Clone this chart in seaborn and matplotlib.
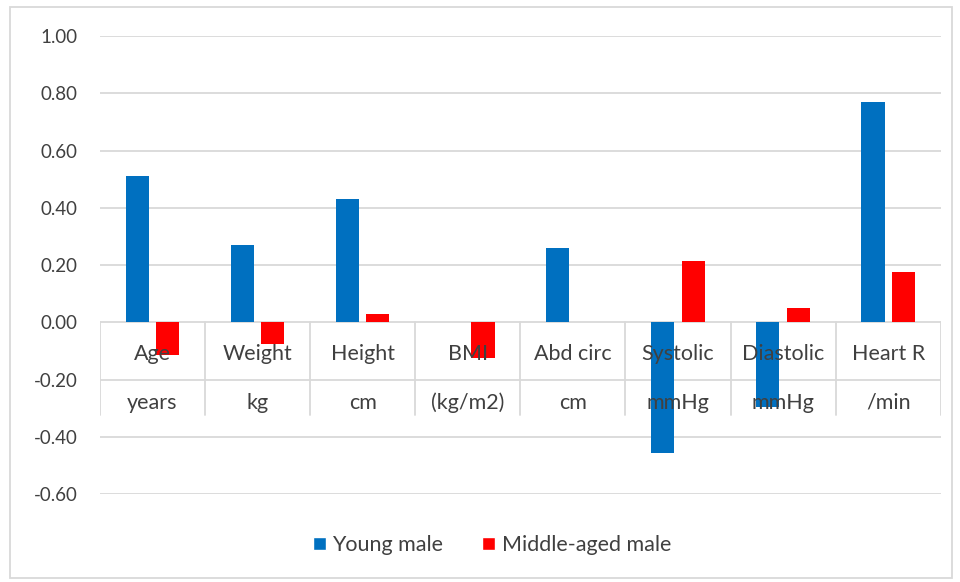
import pandas as pd
import matplotlib
matplotlib.use("Agg")
import matplotlib.pyplot as plt
from matplotlib.patches import Rectangle, Patch
import seaborn as sns

# valores
categorias = ["Age", "Weight", "Height", "BMI", "Abd circ", "Systolic", "Diastolic", "Heart R"]
unidades = ["years", "kg", "cm", "(kg/m2)", "cm", "mmHg", "mmHg", "/min"]
young = [0.51, 0.27, 0.43, 0.0, 0.26, -0.455, -0.295, 0.77]
middle = [-0.115, -0.075, 0.03, -0.125, 0.0, 0.215, 0.05, 0.175]
series = ["Young male", "Middle-aged male"]
yticks = [1.0, 0.8, 0.6, 0.4, 0.2, 0.0, -0.2, -0.4, -0.6]

AZUL = "#0070c0"
VERMELHO = "#ff0000"
GRADE = "#d9d9d9"
TEXTO = "#404040"

df = pd.DataFrame({
    "cat": categorias * 2,
    "valor": young + middle,
    "grupo": [series[0]] * len(categorias) + [series[1]] * len(categorias),
})

sns.set_theme(style="white")
plt.rcParams["font.family"] = ["Lato", "DejaVu Sans"]

fig = plt.figure(figsize=(9.6, 5.82), dpi=100)
ax = fig.add_axes([0.104, 0.151, 0.876, 0.787])

sns.barplot(data=df, x="cat", y="valor", hue="grupo", order=categorias,
            palette=[AZUL, VERMELHO], saturation=1, width=0.58, gap=0.24,
            linewidth=0, ax=ax, legend=False, zorder=3)

ax.set_ylim(-0.6, 1.0)
ax.set_xlim(-0.5, len(categorias) - 0.5)
ax.set_yticks(yticks)
ax.set_yticklabels([f"{v:.2f}" for v in yticks], fontsize=13.5, color="#404040")
ax.tick_params(axis="y", length=0, pad=16)
ax.set_xticks([])
ax.set_xlabel("")
ax.set_ylabel("")
for s in ax.spines.values():
    s.set_visible(False)
for v in yticks:
    ax.axhline(v, color=GRADE, linewidth=1.3, zorder=1)

# tabela de categorias no eixo
for i in range(len(categorias) + 1):
    ax.plot([i - 0.5, i - 0.5], [0, -0.325], color=GRADE, linewidth=1.3, zorder=2)
for i, (c, u) in enumerate(zip(categorias, unidades)):
    ax.text(i, -0.112, c, ha="center", va="center", fontsize=15.5, color=TEXTO, zorder=5)
    ax.text(i, -0.28, u, ha="center", va="center", fontsize=15.5, color=TEXTO, zorder=5)

handles = [Patch(facecolor=AZUL), Patch(facecolor=VERMELHO)]
fig.legend(handles, series, loc="center", bbox_to_anchor=(492 / 960, 1 - 545 / 582),
           ncol=2, frameon=False, fontsize=15.5, handlelength=0.6, handleheight=0.6,
           handletextpad=0.3, columnspacing=1.8, labelcolor=TEXTO)

fig.patches.append(Rectangle((10 / 960, 4 / 582), 942 / 960, 571 / 582,
                             transform=fig.transFigure, fill=False,
                             edgecolor=GRADE, linewidth=1.3))

fig.savefig("out.png", dpi=100)
